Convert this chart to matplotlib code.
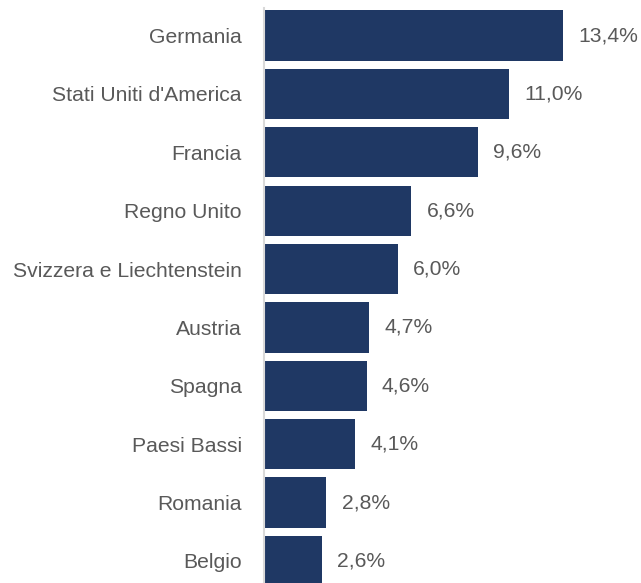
import matplotlib
matplotlib.use("Agg")
import matplotlib.pyplot as plt

categories = ["Germania", "Stati Uniti d'America", "Francia", "Regno Unito",
              "Svizzera e Liechtenstein", "Austria", "Spagna", "Paesi Bassi",
              "Romania", "Belgio"]
values = [13.4, 11.0, 9.6, 6.6, 6.0, 4.7, 4.6, 4.1, 2.8, 2.6]
labels = ["13,4%", "11,0%", "9,6%", "6,6%", "6,0%", "4,7%", "4,6%", "4,1%", "2,8%", "2,6%"]

W, H = 641, 583
fig = plt.figure(figsize=(W/100, H/100), dpi=100)
ax = fig.add_axes([264/W, 0, (W-264)/W, (H-8)/H])

bar_color = "#1F3864"
text_color = "#595959"
font = "Liberation Sans"
fs = 15.2

y = list(range(len(categories)))
ax.barh(y, values, height=0.86, color=bar_color)
ax.set_ylim(9.377, -0.471)
ax.set_xlim(0, 16.9)

for yi, v, lab in zip(y, values, labels):
    ax.annotate(lab, (v, yi), xytext=(11, 0), textcoords="offset points",
                va="center", ha="left", fontsize=fs, color=text_color, family=font)

ax.set_yticks(y)
ax.set_yticklabels(categories, fontsize=fs, color=text_color, family=font)
ax.tick_params(axis="y", length=0, pad=16)
ax.set_xticks([])
for s in ["top", "right", "bottom"]:
    ax.spines[s].set_visible(False)
ax.spines["left"].set_color("#D9D9D9")
ax.spines["left"].set_linewidth(1.5)

fig.savefig("out.png", dpi=100)
